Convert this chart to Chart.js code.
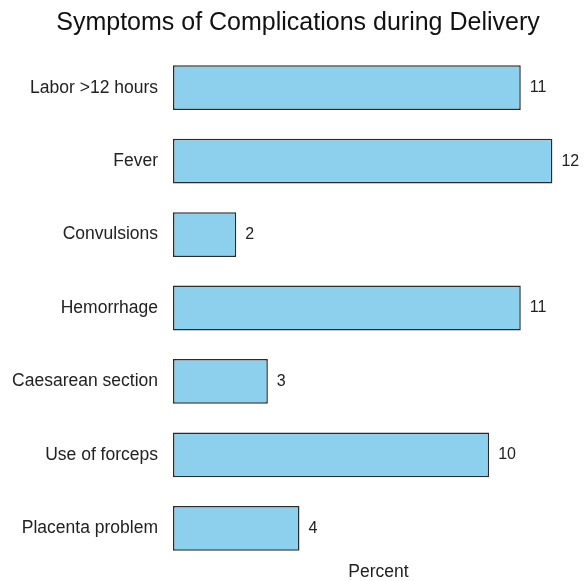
<!DOCTYPE html>
<html lang="en">
<head>
  <meta charset="UTF-8" />
  <title>Symptoms of Complications during Delivery</title>
  <script src="https://cdn.jsdelivr.net/npm/chart.js@4.4.1/dist/chart.umd.min.js"></script>
  <style>
    html, body { margin: 0; padding: 0; background: #ffffff; }
    #wrap { width: 584px; height: 581px; }
  </style>
</head>
<body>
  <div id="wrap"><canvas id="chart" width="584" height="581"></canvas></div>
  <script>
    const symptoms = ['Labor >12 hours', 'Fever', 'Convulsions', 'Hemorrhage', 'Caesarean section', 'Use of forceps', 'Placenta problem'];
    const percents = [11, 12, 2, 11, 3, 10, 4];

    const FONT = "'Liberation Sans', Arial, Helvetica, sans-serif";

    // value written just right of each bar
    const valueLabels = {
      id: 'valueLabels',
      afterDatasetsDraw(chart) {
        const ctx = chart.ctx;
        const meta = chart.getDatasetMeta(0);
        ctx.save();
        ctx.font = '16px ' + FONT;
        ctx.fillStyle = '#222';
        ctx.textAlign = 'left';
        ctx.textBaseline = 'middle';
        meta.data.forEach((bar, i) => {
          ctx.fillText(String(percents[i]), bar.x + 9, bar.y);
        });
        ctx.restore();
      }
    };

    new Chart(document.getElementById('chart'), {
      type: 'bar',
      data: {
        labels: symptoms,
        datasets: [{
          data: percents,
          backgroundColor: '#8dd0ee',
          borderColor: '#2b2b2b',
          borderWidth: 1.5,
          borderSkipped: false,
          barPercentage: 0.61,
          categoryPercentage: 1
        }]
      },
      options: {
        indexAxis: 'y',
        responsive: false,
        animation: false,
        layout: { padding: { left: 12, right: 0, top: 0, bottom: 0 } },
        plugins: {
          legend: { display: false },
          tooltip: { enabled: false },
          title: {
            display: true,
            text: 'Symptoms of Complications during Delivery',
            color: '#111',
            font: { family: FONT, size: 25, weight: 'normal' },
            padding: { top: 8, bottom: 13 }
          }
        },
        scales: {
          x: {
            min: 0,
            max: 13,
            grid: { display: false, drawTicks: false },
            border: { display: false },
            ticks: { display: false },
            title: {
              display: true,
              text: 'Percent',
              color: '#222',
              font: { family: FONT, size: 17.5, lineHeight: 1 },
              padding: { top: 0, bottom: 0 }
            },
            afterFit: (s) => { s.height = 16; }
          },
          y: {
            grid: { display: false, drawTicks: false },
            border: { display: false },
            ticks: {
              color: '#222',
              padding: 15,
              font: { family: FONT, size: 17.5 }
            },
            afterFit: (s) => {
              s.width = 161;
              s.paddingTop = 0;
              s.paddingBottom = 0;
            }
          }
        }
      },
      plugins: [valueLabels]
    });
  </script>
</body>
</html>
